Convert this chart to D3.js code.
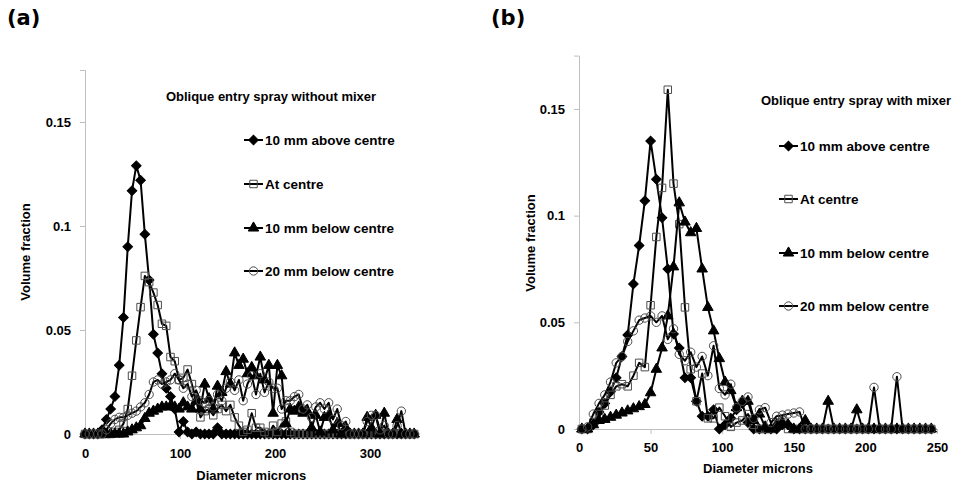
<!DOCTYPE html>
<html>
<head>
<meta charset="utf-8">
<script src="https://cdn.jsdelivr.net/npm/d3@7"></script>
<style>
  body { margin: 0; background: #fff; }
  svg text { font-family: "Liberation Sans", Arial, sans-serif; font-weight: bold; fill: #000; }
  .panel-label { font-family: "DejaVu Sans", sans-serif; font-size: 21px; }
  .axis path, .axis line { stroke: #bfbfbf; }
  .axis text { font-size: 13px; }
</style>
</head>
<body>
<svg id="chart" width="953" height="486"></svg>
<script>
// legend labels (same for both panels)
const seriesNames = ['10 mm above centre', 'At centre', '10 mm below centre', '20 mm below centre'];

// panel (a): oblique entry spray without mixer
const diameterA = [0, 4.5, 9, 13.5, 18, 22.5, 27, 31.5, 36, 40.5,
    45, 49.5, 54, 58.5, 63, 67.5, 72, 76.5, 81, 85.5,
    90, 94.5, 99, 103.5, 108, 112.5, 117, 121.5, 126, 130.5,
    135, 139.5, 144, 148.5, 153, 157.5, 162, 166.5, 171, 175.5,
    180, 184.5, 189, 193.5, 198, 202.5, 207, 211.5, 216, 220.5,
    225, 229.5, 234, 238.5, 243, 247.5, 252, 256.5, 261, 265.5,
    270, 274.5, 279, 283.5, 288, 292.5, 297, 301.5, 306, 310.5,
    315, 319.5, 324, 328.5, 333, 337.5, 342, 346.5];
const aboveA = [0, 0, 0, 0, 0.002, 0.007, 0.012, 0.018, 0.033, 0.056,
    0.090, 0.117, 0.129, 0.122, 0.096, 0.074, 0.048, 0.039, 0.029, 0.022,
    0.018, 0.012, 0.001, 0.006, 0.001, 0, 0.001, 0, 0, 0,
    0, 0.003, 0, 0, 0, 0, 0, 0, 0, 0,
    0, 0, 0, 0, 0, 0, 0, 0, 0, 0,
    0, 0, 0, 0, 0, 0, 0, 0, 0, 0,
    0, 0, 0, 0, 0, 0, 0, 0, 0, 0,
    0, 0, 0, 0, 0, 0, 0, 0];
const centreA = [0, 0, 0, 0, 0, 0, 0, 0.001, 0.002, 0.005,
    0.012, 0.028, 0.045, 0.061, 0.076, 0.073, 0.068, 0.062, 0.053, 0.052,
    0.037, 0.035, 0.026, 0.027, 0.031, 0.024, 0.016, 0.008, 0.011, 0.012,
    0.009, 0.012, 0.014, 0.011, 0.014, 0.008, 0.004, 0.001, 0.002, 0.010,
    0.003, 0.003, 0.001, 0, 0.004, 0.001, 0.005, 0.006, 0.001, 0,
    0, 0, 0, 0, 0, 0, 0, 0, 0, 0,
    0, 0, 0, 0, 0, 0, 0, 0, 0, 0,
    0, 0, 0, 0, 0, 0, 0, 0];
const below10A = [0, 0, 0, 0, 0, 0, 0, 0, 0, 0,
    0.001, 0.002, 0.003, 0.004, 0.0075, 0.010, 0.011, 0.012, 0.013, 0.013,
    0.0135, 0.013, 0.012, 0.015, 0.013, 0.012, 0.016, 0.012, 0.024, 0.017,
    0.012, 0.023, 0.020, 0.030, 0.024, 0.039, 0.033, 0.036, 0.029, 0.032,
    0.028, 0.037, 0.026, 0.033, 0.010, 0.033, 0.028, 0.005, 0.012, 0.011,
    0.013, 0.010, 0.011, 0.003, 0.009, 0.001, 0.008, 0.009, 0.002, 0.005,
    0, 0.003, 0, 0, 0, 0, 0.008, 0.003, 0.009, 0,
    0.010, 0, 0, 0.007, 0, 0, 0, 0];
const below20A = [0, 0, 0, 0, 0, 0.002, 0.005, 0.007, 0.008, 0.008,
    0.009, 0.010, 0.011, 0.013, 0.015, 0.019, 0.025, 0.026, 0.024, 0.025,
    0.026, 0.029, 0.026, 0.022, 0.024, 0.018, 0.021, 0.016, 0.015, 0.016,
    0.013, 0.019, 0.016, 0.022, 0.025, 0.021, 0.026, 0.016, 0.024, 0.028,
    0.019, 0.029, 0.020, 0.025, 0.022, 0.022, 0.012, 0.016, 0.016, 0.018,
    0.019, 0.012, 0.014, 0.008, 0.013, 0.015, 0.012, 0.015, 0.007, 0.012,
    0.004, 0.006, 0, 0, 0, 0, 0.006, 0.009, 0.009, 0.002,
    0.004, 0, 0, 0.004, 0.011, 0, 0, 0];

// panel (b): oblique entry spray with mixer
const diameterB = [2, 6, 10, 14, 18, 22, 26, 30, 34, 38,
    42, 46, 50, 54, 58, 62, 66, 70, 74, 78,
    82, 86, 90, 94, 98, 102, 106, 110, 114, 118,
    122, 126, 130, 134, 138, 142, 146, 150, 154, 158,
    162, 166, 170, 174, 178, 182, 186, 190, 194, 198,
    202, 206, 210, 214, 218, 222, 226, 230, 234, 238,
    242, 246];
const aboveB = [0, 0, 0.002, 0.008, 0.012, 0.0175, 0.024, 0.034, 0.044, 0.068,
    0.086, 0.107, 0.135, 0.117, 0.099, 0.075, 0.0445, 0.038, 0.024, 0.024,
    0.013, 0.006, 0.006, 0.009, 0, 0.002, 0.005, 0.009, 0.012, 0.003,
    0, 0, 0, 0, 0, 0.002, 0.002, 0, 0, 0,
    0, 0, 0, 0, 0, 0, 0, 0, 0, 0,
    0, 0, 0, 0, 0, 0, 0, 0, 0, 0,
    0, 0];
const centreB = [0, 0, 0.003, 0.007, 0.011, 0.016, 0.020, 0.021, 0.020, 0.025,
    0.031, 0.029, 0.058, 0.090, 0.113, 0.159, 0.115, 0.096, 0.057, 0.028,
    0.013, 0.026, 0.005, 0.005, 0.010, 0.006, 0.001, 0.003, 0.004, 0.007,
    0.002, 0, 0, 0, 0.003, 0.004, 0, 0, 0, 0,
    0, 0, 0, 0, 0, 0, 0, 0, 0, 0,
    0, 0, 0, 0, 0, 0, 0, 0, 0, 0,
    0, 0];
const below10B = [0, 0, 0.002, 0.004, 0.0045, 0.0055, 0.0065, 0.0075, 0.0085, 0.0095,
    0.0105, 0.0115, 0.017, 0.028, 0.038, 0.053, 0.076, 0.106, 0.097, 0.092,
    0.094, 0.075, 0.057, 0.046, 0.033, 0.022, 0.018, 0.010, 0.013, 0.013,
    0.004, 0.007, 0.001, 0, 0.002, 0.003, 0.002, 0, 0, 0.004,
    0, 0, 0, 0.013, 0, 0, 0, 0, 0.009, 0,
    0, 0, 0, 0, 0, 0, 0, 0, 0, 0,
    0, 0];
const below20B = [0, 0.001, 0.007, 0.012, 0.016, 0.022, 0.031, 0.034, 0.041, 0.046,
    0.051, 0.052, 0.053, 0.050, 0.053, 0.042, 0.047, 0.035, 0.032, 0.036,
    0.029, 0.034, 0.025, 0.039, 0.019, 0.016, 0.021, 0.010, 0.013, 0.015,
    0.005, 0.009, 0.010, 0.003, 0.006, 0.0065, 0.007, 0.0075, 0.008, 0,
    0, 0, 0, 0, 0, 0, 0, 0, 0, 0,
    0, 0.0195, 0, 0, 0, 0.0245, 0, 0, 0, 0,
    0, 0];

const yTicks = [0, 0.05, 0.1, 0.15];

// marker look per series: filled diamond, open square, filled triangle, open circle
const markerStyles = [
    { type: d3.symbolSquare, size: 46, rotate: 45, fill: '#000', stroke: '#000', width: 1 },
    { type: d3.symbolSquare, size: 56, rotate: 0, fill: 'none', stroke: '#4d4d4d', width: 1 },
    { type: d3.symbolTriangle, size: 48, rotate: 0, fill: '#000', stroke: '#000', width: 1 },
    { type: d3.symbolCircle, size: 55, rotate: 0, fill: 'none', stroke: '#4d4d4d', width: 1 }
];

const svg = d3.select('#chart');

function drawMarker(sel, style, x, y) {
    sel.append('path')
        .attr('d', d3.symbol().type(style.type).size(style.size)())
        .attr('transform', `translate(${x},${y}) rotate(${style.rotate})`)
        .attr('fill', style.fill)
        .attr('stroke', style.stroke)
        .attr('stroke-width', style.width);
}

function drawPanel(p) {
    const g = svg.append('g');

    const xScale = d3.scaleLinear().domain([0, p.xMax]).range([p.left, p.right]);
    const yScale = d3.scaleLinear().domain([0, 0.175]).range([p.bottom, p.top]);

    g.append('g')
        .attr('class', 'axis')
        .attr('transform', `translate(0,${p.bottom})`)
        .call(d3.axisBottom(xScale).tickValues(p.xTicks).tickSizeOuter(0).tickSize(5).tickPadding(p.xPad));

    g.append('g')
        .attr('class', 'axis')
        .attr('transform', `translate(${p.left},0)`)
        .call(d3.axisLeft(yScale).tickValues(yTicks).tickFormat(d => String(d)).tickSizeOuter(0).tickSize(5).tickPadding(9));

    g.selectAll('.axis .domain').attr('stroke', '#bfbfbf');

    // axis titles
    g.append('text')
        .attr('x', (p.left + p.right) / 2)
        .attr('y', p.xTitleY)
        .attr('text-anchor', 'middle')
        .style('font-size', '13px')
        .text('Diameter microns');

    g.append('text')
        .attr('transform', `translate(${p.yTitleX},${p.yTitleY}) rotate(-90)`)
        .attr('text-anchor', 'middle')
        .style('font-size', '13px')
        .text('Volume fraction');

    const line = d3.line()
        .x(d => xScale(d.x))
        .y(d => yScale(d.y));

    p.series.forEach((values, i) => {
        const data = values.map((v, j) => ({ x: p.diameters[j], y: v }));
        const sg = g.append('g');
        sg.append('path')
            .datum(data)
            .attr('d', line)
            .attr('fill', 'none')
            .attr('stroke', '#000')
            .attr('stroke-width', 2)
            .attr('stroke-linejoin', 'round');
        data.forEach(d => drawMarker(sg, markerStyles[i], xScale(d.x), yScale(d.y)));
    });

    // legend
    g.append('text')
        .attr('x', p.legendTitleX)
        .attr('y', p.legendTitleY)
        .attr('text-anchor', 'middle')
        .style('font-size', '13px')
        .text(p.title);

    seriesNames.forEach((name, i) => {
        const y = p.legendY[i];
        g.append('line')
            .attr('x1', p.legendX).attr('x2', p.legendX + 19)
            .attr('y1', y).attr('y2', y)
            .attr('stroke', '#000').attr('stroke-width', 2);
        drawMarker(g, markerStyles[i], p.legendX + 9.5, y);
        g.append('text')
            .attr('x', p.legendX + 21)
            .attr('y', y)
            .attr('dy', '0.35em')
            .style('font-size', '13.5px')
            .text(name);
    });

    g.append('text')
        .attr('class', 'panel-label')
        .attr('x', p.labelX)
        .attr('y', 25)
        .text(p.label);
}

drawPanel({
    label: '(a)', labelX: 7,
    title: 'Oblique entry spray without mixer',
    diameters: diameterA,
    series: [aboveA, centreA, below10A, below20A],
    xMax: 350, xTicks: [0, 100, 200, 300], xPad: 10,
    left: 85, right: 417.5, top: 70, bottom: 434,
    xTitleY: 480, yTitleX: 30, yTitleY: 252,
    legendTitleX: 271, legendTitleY: 101,
    legendX: 244, legendY: [140, 184, 228, 271]
});

drawPanel({
    label: '(b)', labelX: 491,
    title: 'Oblique entry spray with mixer',
    diameters: diameterB,
    series: [aboveB, centreB, below10B, below20B],
    xMax: 250, xTicks: [0, 50, 100, 150, 200, 250], xPad: 9,
    left: 579, right: 937, top: 55.6, bottom: 429,
    xTitleY: 473, yTitleX: 535, yTitleY: 243,
    legendTitleX: 856, legendTitleY: 105,
    legendX: 779, legendY: [146, 199, 253, 306]
});
</script>
</body>
</html>
